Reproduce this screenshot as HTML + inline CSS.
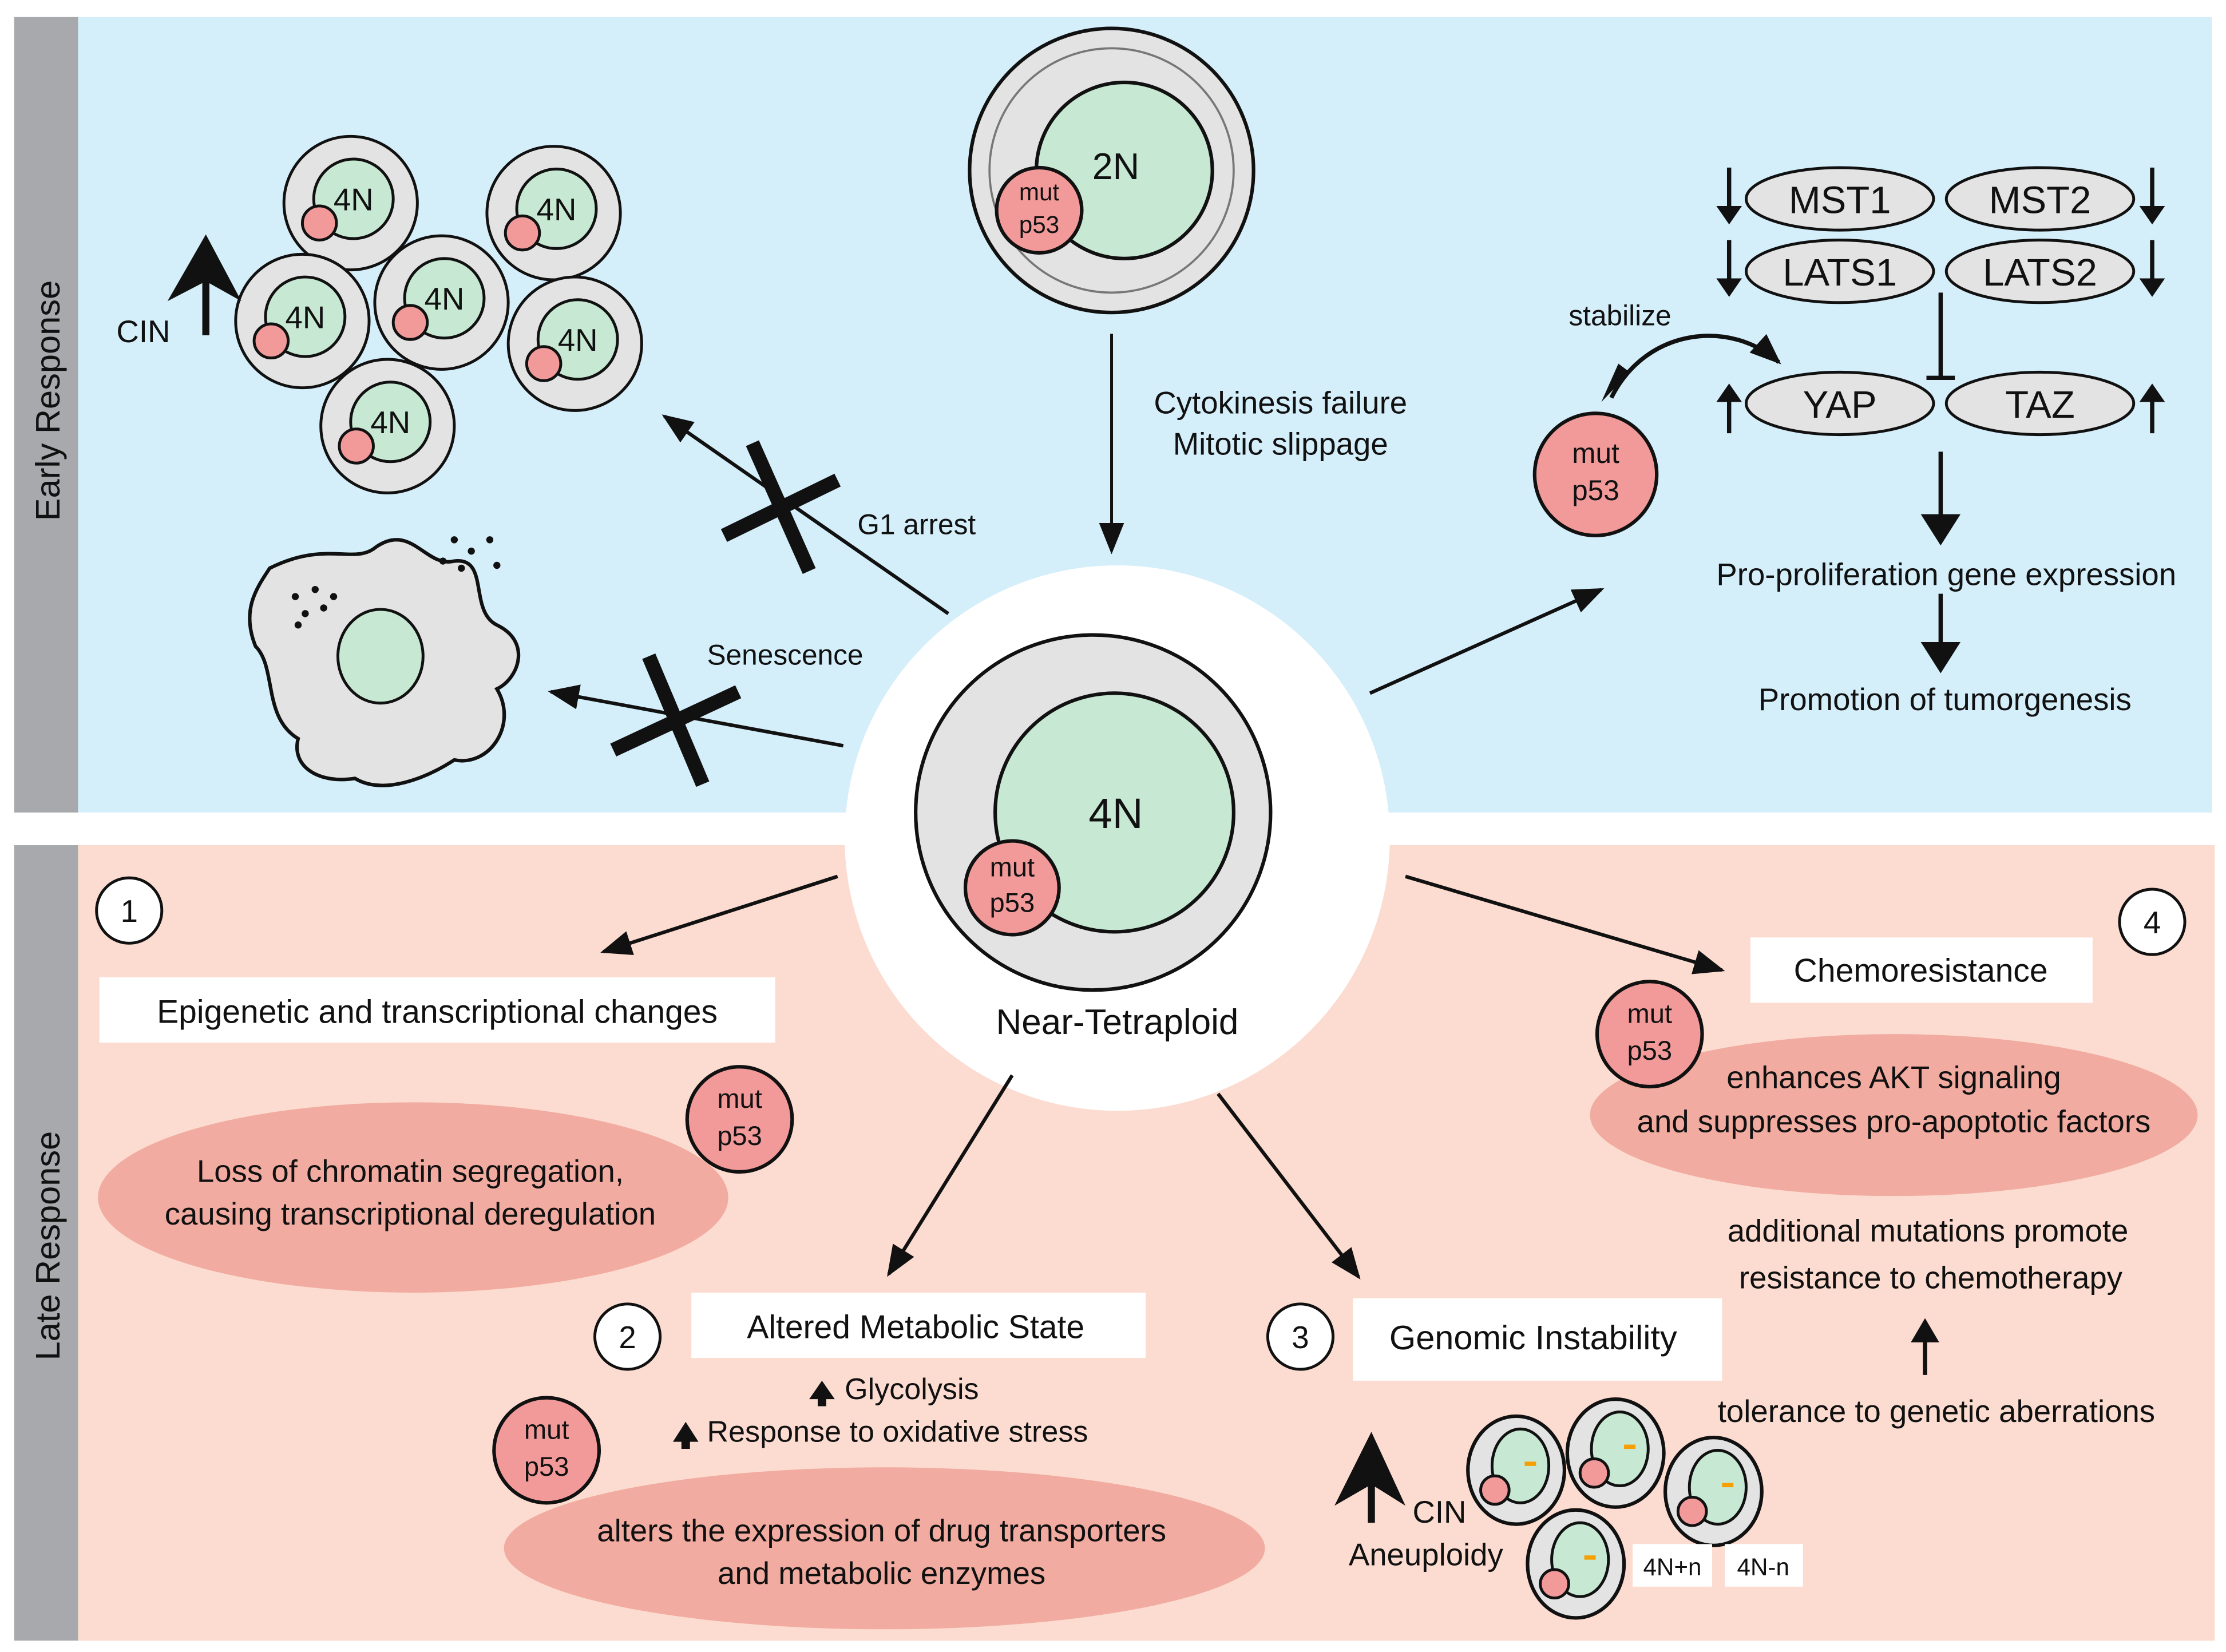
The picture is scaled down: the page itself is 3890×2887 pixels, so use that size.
<!DOCTYPE html>
<html><head><style>html,body{margin:0;padding:0;background:#fff}svg{display:block}text{font-family:"Liberation Sans",sans-serif;fill:#111}</style></head>
<body>
<svg width="3890" height="2887" viewBox="0 0 1568 1163" preserveAspectRatio="none" xmlns="http://www.w3.org/2000/svg">
<defs>
<marker id="ah" markerWidth="10" markerHeight="10" refX="9" refY="5" orient="auto" markerUnits="userSpaceOnUse"><path d="M0,0 L18,5 L0,10 Z" transform="scale(0.55,1)" fill="#111"/></marker>
<marker id="a2" viewBox="0 0 10 10" markerWidth="22" markerHeight="22" refX="9" refY="5" orient="auto" markerUnits="userSpaceOnUse"><path d="M0,1 L10,5 L0,9 Z" fill="#111"/></marker>
<g id="sc"><circle r="47" fill="#e3e3e3" stroke="#111" stroke-width="2"/><circle cx="2" cy="-3" r="28" fill="#c7e8d2" stroke="#111" stroke-width="2"/><circle cx="-22" cy="14" r="12" fill="#f29a9a" stroke="#111" stroke-width="2"/></g>
<g id="ac"><ellipse rx="34" ry="38" fill="#e3e3e3" stroke="#111" stroke-width="2.5"/><ellipse cx="3" cy="-3" rx="20" ry="26" fill="#c7e8d2" stroke="#111" stroke-width="2"/><circle cx="-15" cy="14" r="10" fill="#f29a9a" stroke="#111" stroke-width="2"/><rect x="6" y="-6" width="8" height="3" fill="#f5a000"/></g>
</defs>
<!-- panels -->
<rect x="10" y="12" width="45" height="560" fill="#a7a9ac"/>
<rect x="55" y="12" width="1503" height="560" fill="#d4eefa"/>
<rect x="10" y="595" width="45" height="560" fill="#a7a9ac"/>
<rect x="55" y="595" width="1505" height="560" fill="#fcdcd0"/>
<text transform="translate(42,282) rotate(-90)" text-anchor="middle" font-size="24">Early Response</text>
<text transform="translate(42,877) rotate(-90)" text-anchor="middle" font-size="24">Late Response</text>
<!-- center -->
<circle cx="787" cy="590" r="192" fill="#fff"/>
<circle cx="770" cy="572" r="125" fill="#e3e3e3" stroke="#111" stroke-width="2.5"/>
<circle cx="785" cy="572" r="84" fill="#c7e8d2" stroke="#111" stroke-width="2.5"/>
<text x="786" y="583" text-anchor="middle" font-size="30">4N</text>
<circle cx="713" cy="625" r="33" fill="#f29a9a" stroke="#111" stroke-width="2.5"/>
<text x="713" y="617" text-anchor="middle" font-size="19">mut</text><text x="713" y="642" text-anchor="middle" font-size="19">p53</text>
<text x="787" y="728" text-anchor="middle" font-size="25">Near-Tetraploid</text>
<!-- 2N -->
<circle cx="783" cy="120" r="100" fill="#e3e3e3" stroke="#111" stroke-width="2.5"/>
<circle cx="783" cy="120" r="86" fill="#e3e3e3" stroke="#777" stroke-width="1.5"/>
<circle cx="792" cy="120" r="62" fill="#c7e8d2" stroke="#111" stroke-width="2.5"/>
<text x="786" y="126" text-anchor="middle" font-size="26">2N</text>
<circle cx="732" cy="148" r="30" fill="#f29a9a" stroke="#111" stroke-width="2.5"/>
<text x="732" y="141" text-anchor="middle" font-size="17">mut</text><text x="732" y="164" text-anchor="middle" font-size="17">p53</text>
<line x1="783" y1="235" x2="783" y2="388" stroke="#111" stroke-width="2" marker-end="url(#a2)"/>
<text x="902" y="291" text-anchor="middle" font-size="22">Cytokinesis failure</text>
<text x="902" y="320" text-anchor="middle" font-size="22">Mitotic slippage</text>
<!-- 4N cluster -->
<use href="#sc" x="247" y="143"/><use href="#sc" x="390" y="150"/><use href="#sc" x="213" y="226"/><use href="#sc" x="311" y="213"/><use href="#sc" x="405" y="242"/><use href="#sc" x="273" y="300"/>
<g font-size="22" text-anchor="middle"><text x="249" y="148">4N</text><text x="392" y="155">4N</text><text x="215" y="231">4N</text><text x="313" y="218">4N</text><text x="407" y="247">4N</text><text x="275" y="305">4N</text></g>
<path d="M145,236 V190" stroke="#111" stroke-width="5"/><path d="M118,212 L145,165 L170,212 L145,198 Z" fill="#111"/>
<text x="82" y="241" font-size="22">CIN</text>
<line x1="668" y1="432" x2="468" y2="293" stroke="#111" stroke-width="2.5" marker-end="url(#a2)"/>
<line x1="510" y1="377" x2="590" y2="338" stroke="#111" stroke-width="10"/><line x1="530" y1="312" x2="570" y2="402" stroke="#111" stroke-width="10"/>
<text x="604" y="376" font-size="20">G1 arrest</text>
<!-- senescent -->
<path d="M190,400 C230,380 250,398 265,385 C290,368 300,400 320,395 C345,392 330,430 350,440 C375,452 365,478 350,485 C365,510 345,540 320,535 C300,548 270,560 250,548 C225,552 205,540 210,520 C185,505 195,470 180,455 C170,430 180,415 190,400 Z" fill="#e3e3e3" stroke="#111" stroke-width="2.5"/>
<ellipse cx="268" cy="462" rx="30" ry="33" fill="#c7e8d2" stroke="#111" stroke-width="2"/>
<g fill="#111"><circle cx="208" cy="420" r="2.5"/><circle cx="222" cy="415" r="2.5"/><circle cx="235" cy="420" r="2.5"/><circle cx="215" cy="432" r="2.5"/><circle cx="228" cy="428" r="2.5"/><circle cx="210" cy="440" r="2.5"/><circle cx="320" cy="380" r="2.5"/><circle cx="332" cy="388" r="2.5"/><circle cx="345" cy="380" r="2.5"/><circle cx="312" cy="395" r="2.5"/><circle cx="350" cy="398" r="2.5"/><circle cx="325" cy="400" r="2.5"/></g>
<line x1="594" y1="525" x2="388" y2="487" stroke="#111" stroke-width="2.5" marker-end="url(#a2)"/>
<line x1="432" y1="528" x2="520" y2="487" stroke="#111" stroke-width="10"/><line x1="457" y1="462" x2="495" y2="552" stroke="#111" stroke-width="10"/>
<text x="498" y="468" font-size="20">Senescence</text>
<!-- Hippo -->
<line x1="965" y1="488" x2="1128" y2="415" stroke="#111" stroke-width="2.5" marker-end="url(#a2)"/>
<g fill="#e3e3e3" stroke="#111" stroke-width="2"><ellipse cx="1296" cy="140" rx="66" ry="22"/><ellipse cx="1437" cy="140" rx="66" ry="22"/><ellipse cx="1296" cy="191" rx="66" ry="22"/><ellipse cx="1437" cy="191" rx="66" ry="22"/><ellipse cx="1296" cy="284" rx="66" ry="22"/><ellipse cx="1437" cy="284" rx="66" ry="22"/></g>
<g font-size="27" text-anchor="middle"><text x="1296" y="150">MST1</text><text x="1437" y="150">MST2</text><text x="1296" y="201">LATS1</text><text x="1437" y="201">LATS2</text><text x="1296" y="294">YAP</text><text x="1437" y="294">TAZ</text></g>
<g stroke="#111" stroke-width="3"><line x1="1218" y1="118" x2="1218" y2="148"/><line x1="1516" y1="118" x2="1516" y2="148"/><line x1="1218" y1="169" x2="1218" y2="199"/><line x1="1516" y1="169" x2="1516" y2="199"/><line x1="1218" y1="305" x2="1218" y2="280"/><line x1="1516" y1="305" x2="1516" y2="280"/>
<line x1="1367" y1="206" x2="1367" y2="265"/><line x1="1357" y1="266" x2="1377" y2="266"/><line x1="1367" y1="318" x2="1367" y2="370"/><line x1="1367" y1="418" x2="1367" y2="460"/></g>
<g fill="#111"><path d="M1209,145 L1218,158 L1227,145Z"/><path d="M1507,145 L1516,158 L1525,145Z"/><path d="M1209,196 L1218,209 L1227,196Z"/><path d="M1507,196 L1516,209 L1525,196Z"/><path d="M1209,283 L1218,270 L1227,283Z"/><path d="M1507,283 L1516,270 L1525,283Z"/><path d="M1353,362 L1367,384 L1381,362Z"/><path d="M1353,452 L1367,474 L1381,452Z"/></g>
<text x="1371" y="412" text-anchor="middle" font-size="22">Pro-proliferation gene expression</text>
<text x="1370" y="500" text-anchor="middle" font-size="22">Promotion of tumorgenesis</text>
<path d="M1135,280 C1160,230 1220,225 1253,255" fill="none" stroke="#111" stroke-width="3" marker-end="url(#a2)" marker-start="url(#a2s)"/>
<path d="M1148,262 L1128,283 L1140,256Z" fill="#111"/>
<text x="1105" y="229" font-size="20">stabilize</text>
<circle cx="1124" cy="334" r="43" fill="#f29a9a" stroke="#111" stroke-width="2.5"/>
<text x="1124" y="326" text-anchor="middle" font-size="20">mut</text><text x="1124" y="352" text-anchor="middle" font-size="20">p53</text>
<!-- late -->
<circle cx="91" cy="641" r="23" fill="#fff" stroke="#111" stroke-width="2"/><text x="91" y="649" text-anchor="middle" font-size="22">1</text>
<line x1="590" y1="617" x2="425" y2="670" stroke="#111" stroke-width="2.5" marker-end="url(#a2)"/>
<rect x="70" y="688" width="476" height="46" fill="#fff"/><text x="308" y="720" text-anchor="middle" font-size="23">Epigenetic and transcriptional changes</text>
<ellipse cx="291" cy="843" rx="222" ry="67" fill="#f1aba0"/>
<text x="289" y="832" text-anchor="middle" font-size="22">Loss of chromatin segregation,</text>
<text x="289" y="862" text-anchor="middle" font-size="22">causing transcriptional deregulation</text>
<circle cx="521" cy="788" r="37" fill="#f29a9a" stroke="#111" stroke-width="2.5"/>
<text x="521" y="780" text-anchor="middle" font-size="19">mut</text><text x="521" y="806" text-anchor="middle" font-size="19">p53</text>
<line x1="713" y1="757" x2="626" y2="897" stroke="#111" stroke-width="2.5" marker-end="url(#a2)"/>
<circle cx="442" cy="941" r="23" fill="#fff" stroke="#111" stroke-width="2"/><text x="442" y="949" text-anchor="middle" font-size="22">2</text>
<rect x="487" y="910" width="320" height="46" fill="#fff"/><text x="645" y="942" text-anchor="middle" font-size="23">Altered Metabolic State</text>
<text x="595" y="985" font-size="21">Glycolysis</text><text x="498" y="1015" font-size="21">Response to oxidative stress</text>
<g fill="#111"><path d="M570,985 L579,972 L588,985 L582,985 L582,990 L576,990 L576,985Z"/><path d="M474,1015 L483,1001 L492,1015 L486,1015 L486,1020 L480,1020 L480,1015Z"/></g>
<ellipse cx="623" cy="1090" rx="268" ry="57" fill="#f1aba0"/>
<text x="621" y="1085" text-anchor="middle" font-size="22">alters the expression of drug transporters</text>
<text x="621" y="1115" text-anchor="middle" font-size="22">and metabolic enzymes</text>
<circle cx="385" cy="1021" r="37" fill="#f29a9a" stroke="#111" stroke-width="2.5"/>
<text x="385" y="1013" text-anchor="middle" font-size="19">mut</text><text x="385" y="1039" text-anchor="middle" font-size="19">p53</text>
<line x1="858" y1="770" x2="957" y2="899" stroke="#111" stroke-width="2.5" marker-end="url(#a2)"/>
<circle cx="916" cy="941" r="23" fill="#fff" stroke="#111" stroke-width="2"/><text x="916" y="949" text-anchor="middle" font-size="22">3</text>
<rect x="953" y="914" width="260" height="58" fill="#fff"/><text x="1080" y="950" text-anchor="middle" font-size="24">Genomic Instability</text>
<path d="M966,1072 V1035" stroke="#111" stroke-width="5"/><path d="M940,1060 L966,1008 L990,1060 L966,1045Z" fill="#111"/>
<text x="995" y="1072" font-size="22">CIN</text>
<text x="950" y="1102" font-size="22">Aneuploidy</text>
<use href="#ac" x="1068" y="1035"/><use href="#ac" x="1138" y="1023"/><use href="#ac" x="1207" y="1050"/><use href="#ac" x="1110" y="1101"/>
<rect x="1150" y="1087" width="56" height="30" fill="#fff"/><text x="1178" y="1109" text-anchor="middle" font-size="17">4N+n</text>
<rect x="1215" y="1087" width="55" height="30" fill="#fff"/><text x="1242" y="1109" text-anchor="middle" font-size="17">4N-n</text>
<line x1="990" y1="617" x2="1213" y2="683" stroke="#111" stroke-width="2.5" marker-end="url(#a2)"/>
<circle cx="1516" cy="649" r="23" fill="#fff" stroke="#111" stroke-width="2"/><text x="1516" y="657" text-anchor="middle" font-size="22">4</text>
<rect x="1233" y="660" width="241" height="46" fill="#fff"/><text x="1353" y="691" text-anchor="middle" font-size="23">Chemoresistance</text>
<ellipse cx="1334" cy="785" rx="214" ry="57" fill="#f1aba0"/>
<text x="1334" y="766" text-anchor="middle" font-size="22">enhances AKT signaling</text>
<text x="1334" y="797" text-anchor="middle" font-size="22">and suppresses pro-apoptotic factors</text>
<circle cx="1162" cy="728" r="37" fill="#f29a9a" stroke="#111" stroke-width="2.5"/>
<text x="1162" y="720" text-anchor="middle" font-size="19">mut</text><text x="1162" y="746" text-anchor="middle" font-size="19">p53</text>
<text x="1358" y="874" text-anchor="middle" font-size="22">additional mutations promote</text>
<text x="1360" y="907" text-anchor="middle" font-size="22">resistance to chemotherapy</text>
<line x1="1356" y1="968" x2="1356" y2="935" stroke="#111" stroke-width="3"/><path d="M1346,945 L1356,928 L1366,945Z" fill="#111"/>
<text x="1364" y="1001" text-anchor="middle" font-size="22">tolerance to genetic aberrations</text>
</svg>
</body></html>
